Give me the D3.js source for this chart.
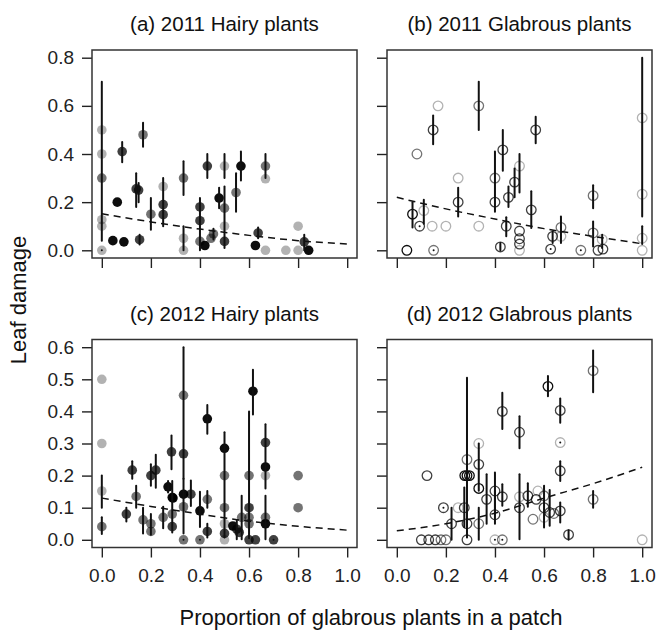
<!DOCTYPE html>
<html lang="en">
<head>
    <meta charset="UTF-8">
    <title>Leaf damage</title>
    <script type="text/javascript" src="https://cdn.jsdelivr.net/npm/d3@7/dist/d3.min.js"></script>
    <style>
        body { margin: 0; background: #fff; }
        svg { display: block; }
    </style>
</head>
<body>
<script type="text/javascript">
    // [x, y, lo, hi, n]  n = weight class 1..4 (light -> dark); lo/hi = error bar (null = none)
    const hairy2011 = [
        [0, 0.50, null, null, 1], [0, 0.40, null, null, 1], [0, 0.30, 0.04, 0.70, 2],
        [0, 0.127, null, null, 1], [0, 0.10, null, null, 1], [0, 0.0, 0, 0, 1],
        [0.063, 0.20, null, null, 4], [0.083, 0.41, 0.366, 0.45, 3], [0.045, 0.04, null, null, 4],
        [0.09, 0.035, null, null, 4], [0.154, 0.044, 0.024, 0.065, 3], [0.168, 0.48, 0.43, 0.53, 2],
        [0.14, 0.255, 0.18, 0.32, 3], [0.15, 0.25, 0.2, 0.28, 3], [0.2, 0.15, 0.085, 0.217, 2],
        [0.25, 0.265, null, null, 1], [0.25, 0.19, 0.10, 0.30, 3], [0.25, 0.148, null, null, 3],
        [0.333, 0.30, 0.23, 0.37, 2], [0.333, 0.05, 0.0, 0.10, 1], [0.333, 0.0, null, null, 1],
        [0.4, 0.18, 0.0, 0.217, 3], [0.4, 0.123, null, null, 3], [0.4, 0.037, null, null, 2],
        [0.42, 0.02, null, null, 4], [0.43, 0.35, 0.30, 0.40, 3], [0.445, 0.05, null, null, 2],
        [0.455, 0.068, 0.045, 0.09, 2], [0.478, 0.217, 0.175, 0.26, 4], [0.5, 0.35, 0.30, 0.40, 1],
        [0.5, 0.175, 0.01, 0.265, 2], [0.5, 0.10, null, null, 1], [0.5, 0.037, null, null, 3],
        [0.547, 0.24, 0.16, 0.32, 2], [0.567, 0.35, 0.29, 0.41, 4], [0.626, 0.02, null, null, 4],
        [0.637, 0.072, 0.05, 0.095, 3], [0.667, 0.35, 0.30, 0.40, 2], [0.667, 0.297, null, null, 1],
        [0.667, 0.0, null, null, 1], [0.75, 0.0, null, null, 1], [0.8, 0.1, null, null, 1],
        [0.8, 0.0, null, null, 1], [0.825, 0.035, 0.0, 0.065, 3], [0.843, 0.0, null, null, 4]
    ];
    const glabrous2011 = [
        [0.041, 0.0, null, null, 4], [0.064, 0.15, 0.095, 0.20, 4], [0.093, 0.10, 0.10, 0.10, 3],
        [0.082, 0.40, null, null, 2], [0.11, 0.165, 0.11, 0.21, 1], [0.144, 0.10, null, null, 1],
        [0.15, 0.0, 0, 0, 2], [0.148, 0.50, 0.44, 0.56, 3], [0.168, 0.60, null, null, 1],
        [0.2, 0.10, null, null, 1], [0.25, 0.30, null, null, 1], [0.25, 0.20, 0.14, 0.26, 3],
        [0.334, 0.60, 0.50, 0.70, 2], [0.334, 0.10, null, null, 1], [0.4, 0.30, 0.16, 0.41, 2],
        [0.4, 0.20, null, null, 3], [0.422, 0.014, 0.0, 0.03, 3], [0.432, 0.417, 0.33, 0.50, 3],
        [0.446, 0.10, 0.058, 0.137, 3], [0.455, 0.22, 0.18, 0.265, 3], [0.48, 0.283, 0.22, 0.34, 3],
        [0.5, 0.35, 0.24, 0.40, 1], [0.5, 0.08, null, null, 3], [0.5, 0.048, null, null, 3],
        [0.5, 0.026, null, null, 3], [0.5, 0.0, null, null, 1], [0.548, 0.168, 0.093, 0.245, 3],
        [0.566, 0.50, 0.445, 0.555, 3], [0.627, 0.005, 0.005, 0.005, 3], [0.635, 0.058, 0.03, 0.078, 3],
        [0.669, 0.095, 0.03, 0.14, 2], [0.669, 0.058, null, null, 1], [0.75, 0.0, 0, 0, 2],
        [0.8, 0.227, 0.175, 0.27, 2], [0.8, 0.072, 0.016, 0.12, 2], [0.82, 0.0, null, null, 3],
        [0.84, 0.005, null, null, 3], [0.837, 0.045, 0.01, 0.065, 1],
        [1.0, 0.55, 0.14, 0.80, 1], [1.0, 0.233, null, null, 1], [1.0, 0.05, 0.026, 0.1, 1],
        [1.0, 0.0, null, null, 1]
    ];
    const hairy2012 = [
        [0, 0.50, null, null, 1], [0, 0.30, null, null, 1], [0, 0.152, 0.10, 0.20, 1],
        [0, 0.041, 0.018, 0.07, 2], [0.1, 0.08, 0.057, 0.10, 3], [0.124, 0.217, 0.19, 0.245, 3],
        [0.14, 0.135, 0.10, 0.168, 2], [0.168, 0.062, 0.02, 0.10, 2], [0.2, 0.20, 0.168, 0.235, 3],
        [0.22, 0.217, 0.162, 0.265, 3], [0.2, 0.05, 0.016, 0.08, 2], [0.2, 0.026, null, null, 2],
        [0.25, 0.07, 0.036, 0.103, 2], [0.27, 0.165, 0.147, 0.183, 4], [0.284, 0.274, 0.22, 0.325, 3],
        [0.287, 0.132, 0.023, 0.183, 4], [0.29, 0.13, null, null, 4], [0.287, 0.08, null, null, 2],
        [0.287, 0.041, null, null, 3], [0.333, 0.45, 0.19, 0.60, 2], [0.333, 0.268, null, null, 3],
        [0.333, 0.142, 0.02, 0.19, 4], [0.333, 0.103, null, null, 2], [0.333, 0.0, 0, 0, 2],
        [0.363, 0.142, 0.105, 0.185, 3], [0.4, 0.09, 0.04, 0.15, 4], [0.4, 0.0, 0, 0, 2],
        [0.43, 0.377, 0.33, 0.42, 4], [0.43, 0.126, 0.10, 0.152, 2], [0.43, 0.026, 0.007, 0.05, 3],
        [0.5, 0.285, 0.007, 0.335, 4], [0.5, 0.20, null, null, 2], [0.5, 0.10, null, null, 2],
        [0.5, 0.05, null, null, 1], [0.5, 0.02, null, null, 3], [0.5, 0.0, null, null, 1],
        [0.534, 0.043, null, null, 4], [0.55, 0.033, 0.002, 0.06, 3], [0.56, 0.023, null, null, 3],
        [0.57, 0.07, 0.002, 0.137, 2], [0.6, 0.20, 0.005, 0.40, 2], [0.6, 0.10, null, null, 3],
        [0.6, 0.07, null, null, 2], [0.6, 0.05, null, null, 2], [0.6, 0.0, null, null, 3],
        [0.616, 0.463, 0.39, 0.53, 4], [0.626, 0.0, null, null, 3], [0.667, 0.303, 0.16, 0.36, 3],
        [0.667, 0.227, null, null, 4], [0.667, 0.20, null, null, 1], [0.667, 0.07, null, null, 2],
        [0.667, 0.05, 0.002, 0.137, 4], [0.70, 0.0, 0, 0, 3], [0.8, 0.20, null, null, 2],
        [0.8, 0.10, null, null, 2]
    ];
    const glabrous2012 = [
        [0.123, 0.20, null, null, 3], [0.10, 0.0, null, null, 3], [0.13, 0.0, null, null, 3],
        [0.157, 0.0, null, null, 3], [0.18, 0.0, null, null, 2], [0.2, 0.0, null, null, 2],
        [0.19, 0.10, 0.10, 0.10, 3], [0.223, 0.05, 0.0, 0.10, 3], [0.25, 0.10, null, null, 1],
        [0.275, 0.10, 0.039, 0.163, 3], [0.286, 0.25, null, null, 2], [0.277, 0.20, null, null, 4],
        [0.286, 0.20, 0.007, 0.505, 4], [0.296, 0.20, null, null, 4], [0.286, 0.05, null, null, 3],
        [0.286, 0.0, null, null, 3], [0.334, 0.30, null, null, 1], [0.334, 0.235, 0.153, 0.30, 3],
        [0.334, 0.16, null, null, 4], [0.334, 0.05, 0.0, 0.10, 2], [0.366, 0.126, 0.05, 0.204, 3],
        [0.4, 0.152, 0.08, 0.21, 3], [0.4, 0.078, 0.05, 0.152, 3], [0.4, 0.0, 0, 0, 1],
        [0.43, 0.0, 0, 0, 2], [0.43, 0.134, 0.106, 0.173, 3], [0.43, 0.40, 0.345, 0.458, 3],
        [0.5, 0.335, 0.285, 0.385, 3], [0.5, 0.134, null, null, 1], [0.5, 0.10, 0.002, 0.204, 3],
        [0.534, 0.137, 0.103, 0.176, 3], [0.555, 0.064, null, null, 2], [0.575, 0.152, null, null, 1],
        [0.568, 0.126, null, null, 3], [0.6, 0.137, 0.038, 0.168, 2], [0.6, 0.10, null, null, 3],
        [0.6, 0.07, null, null, 1], [0.623, 0.085, 0.044, 0.155, 3], [0.616, 0.478, 0.447, 0.51, 4],
        [0.64, 0.082, null, null, 2], [0.666, 0.403, 0.365, 0.44, 3], [0.666, 0.303, 0.303, 0.303, 1],
        [0.666, 0.215, 0.183, 0.245, 3], [0.666, 0.09, 0.054, 0.116, 3], [0.7, 0.016, 0.0, 0.03, 3],
        [0.8, 0.527, 0.46, 0.59, 2], [0.8, 0.126, 0.10, 0.152, 2], [1.0, 0.0, null, null, 1]
    ];

    // fitted curves
    const fitHairy2011 = [[0, 0.152], [0.2, 0.118], [0.4, 0.088], [0.6, 0.062], [0.8, 0.04], [1, 0.026]];
    const fitGlabrous2011 = [[0, 0.22], [0.2, 0.172], [0.4, 0.13], [0.6, 0.09], [0.8, 0.058], [1, 0.027]];
    const fitHairy2012 = [[0, 0.13], [0.2, 0.104], [0.4, 0.08], [0.6, 0.058], [0.8, 0.042], [1, 0.03]];
    const fitGlabrous2012 = [[0, 0.028], [0.2, 0.05], [0.4, 0.083], [0.6, 0.13], [0.8, 0.175], [1, 0.226]];

    const titles = ['(a) 2011 Hairy plants', '(b) 2011 Glabrous plants',
                    '(c) 2012 Hairy plants', '(d) 2012 Glabrous plants'];
    const xTicks = [0, 0.2, 0.4, 0.6, 0.8, 1.0];
    const yTicks2011 = [0, 0.2, 0.4, 0.6, 0.8];
    const yTicks2012 = [0, 0.1, 0.2, 0.3, 0.4, 0.5, 0.6];

    const font = '"Liberation Sans", Arial, sans-serif';
    const svg = d3.select('body').append('svg')
        .attr('width', 657).attr('height', 643)
        .style('font-family', font);

    const pw = 265, ph = 208;
    const lefts = [92, 387], tops = [50, 339.5];
    const opac = d3.scaleOrdinal().domain([1, 2, 3, 4]).range([0.3, 0.55, 0.75, 0.95]);

    const panels = [
        {data: hairy2011, fit: fitHairy2011, filled: true, col: 0, row: 0, ymax: 0.8, ticks: yTicks2011},
        {data: glabrous2011, fit: fitGlabrous2011, filled: false, col: 1, row: 0, ymax: 0.8, ticks: yTicks2011},
        {data: hairy2012, fit: fitHairy2012, filled: true, col: 0, row: 1, ymax: 0.6, ticks: yTicks2012},
        {data: glabrous2012, fit: fitGlabrous2012, filled: false, col: 1, row: 1, ymax: 0.6, ticks: yTicks2012}
    ];

    panels.forEach((p, i) => {
        const x0 = lefts[p.col], y0 = tops[p.row];
        const x = d3.scaleLinear().domain([-0.04, 1.04]).range([0, pw]);
        const y = d3.scaleLinear().domain([-0.04 * p.ymax, 1.04 * p.ymax]).range([ph, 0]);
        const g = svg.append('g').attr('transform', `translate(${x0},${y0})`);

        // y axis
        const ya = g.append('g').call(d3.axisLeft(y).tickValues(p.ticks).tickSize(10).tickPadding(8)
            .tickFormat(d3.format('.1f')));
        ya.select('.domain').remove();
        ya.selectAll('line').attr('stroke', '#222').attr('stroke-width', 1.4);
        ya.selectAll('text').attr('font-size', 19).attr('font-family', font).attr('fill', '#222');
        if (p.col === 1) ya.selectAll('text').remove();

        // x axis
        const xa = g.append('g').attr('transform', `translate(0,${ph})`)
            .call(d3.axisBottom(x).tickValues(xTicks).tickSize(10).tickPadding(11)
                .tickFormat(d3.format('.1f')));
        xa.select('.domain').remove();
        xa.selectAll('line').attr('stroke', '#222').attr('stroke-width', 1.4);
        xa.selectAll('text').attr('font-size', 19).attr('font-family', font).attr('fill', '#222');
        if (p.row === 0) xa.selectAll('text').remove();

        // points
        const pts = g.append('g');
        if (p.filled) {
            pts.selectAll('circle').data(p.data).join('circle')
                .attr('cx', d => x(d[0])).attr('cy', d => y(d[1])).attr('r', 4.8)
                .attr('fill', '#000').attr('fill-opacity', d => opac(d[4]));
        } else {
            pts.selectAll('circle').data(p.data).join('circle')
                .attr('cx', d => x(d[0])).attr('cy', d => y(d[1])).attr('r', 4.8)
                .attr('fill', 'none').attr('stroke', '#000').attr('stroke-width', 1.3)
                .attr('stroke-opacity', d => opac(d[4]));
        }

        // error bars
        g.append('g').selectAll('line').data(p.data.filter(d => d[2] !== null)).join('line')
            .attr('x1', d => x(d[0])).attr('x2', d => x(d[0]))
            .attr('y1', d => y(d[2])).attr('y2', d => y(d[3]))
            .attr('stroke', '#111').attr('stroke-width', 2).attr('stroke-linecap', 'round');

        // fitted curve
        g.append('path').datum(p.fit)
            .attr('d', d3.line().x(d => x(d[0])).y(d => y(d[1])).curve(d3.curveMonotoneX))
            .attr('fill', 'none').attr('stroke', '#111').attr('stroke-width', 1.5)
            .attr('stroke-dasharray', '7,5');

        // box
        g.append('rect').attr('width', pw).attr('height', ph)
            .attr('fill', 'none').attr('stroke', '#333').attr('stroke-width', 1.5);

        g.append('text').attr('x', pw / 2).attr('y', -19).attr('text-anchor', 'middle')
            .attr('font-size', 20.5).attr('fill', '#111').text(titles[i]);
    });

    svg.append('text').attr('transform', 'translate(26,300) rotate(-90)')
        .attr('text-anchor', 'middle').attr('font-size', 22).attr('fill', '#111').text('Leaf damage');
    svg.append('text').attr('x', 371).attr('y', 625)
        .attr('text-anchor', 'middle').attr('font-size', 22).attr('fill', '#111')
        .text('Proportion of glabrous plants in a patch');
</script>
</body>
</html>
